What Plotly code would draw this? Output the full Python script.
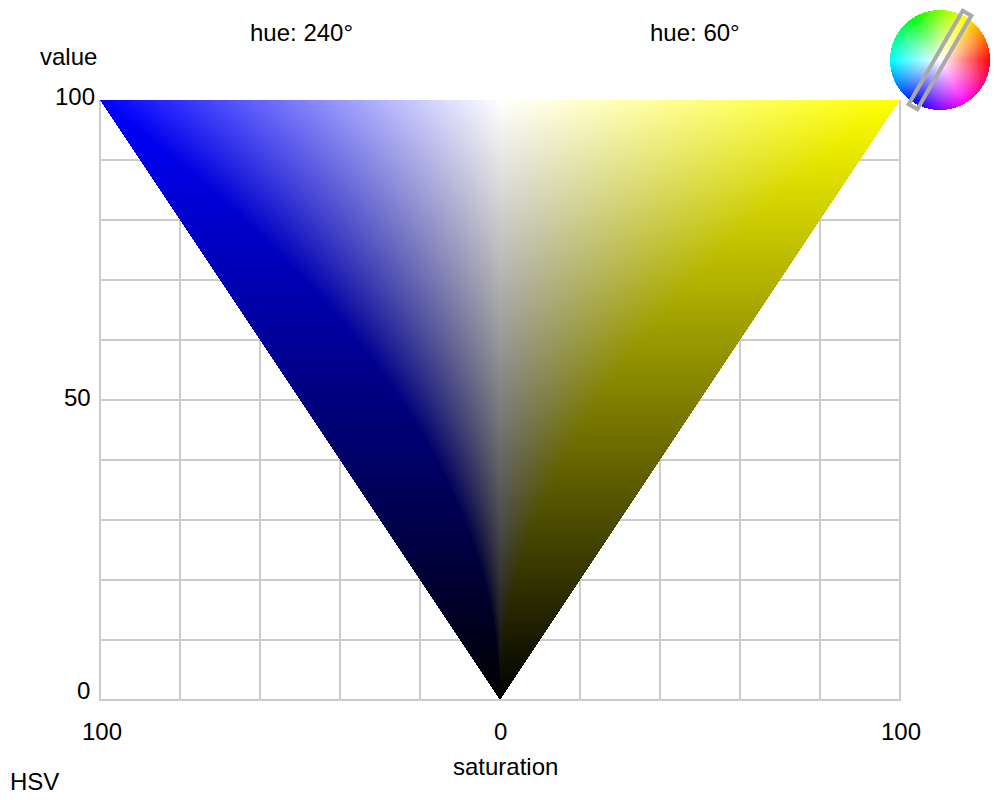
import colorsys
import numpy as np
import plotly.graph_objects as go

# Chart definition
hue_left = 240
hue_right = 60
grid_saturation = [-100, -80, -60, -40, -20, 0, 20, 40, 60, 80, 100]
grid_value = [0, 10, 20, 30, 40, 50, 60, 70, 80, 90]
x_tick_labels = [("100", 102), ("0", 500), ("100", 901)]
y_tick_labels = [("100", 97, 97), ("50", 93, 397), ("0", 92, 690)]
marker_half_length = 54
marker_half_width = 5
marker_hue = 60

W, H = 1000, 800
GRID = "#cccccc"
OUTLINE = "#aaaaaa"
FONT = "Liberation Sans, Arial, sans-serif"


def hue_rgb(h):
    return np.array(colorsys.hsv_to_rgb(h / 360.0, 1, 1))


def cross_section():
    """HSV slice through the two hues: one output pixel per RGBA cell."""
    nx, ny = 800, 600
    xs = -100 + (np.arange(nx) + 0.5) * 200 / nx
    vs = 100 - (np.arange(ny) + 0.5) * 100 / ny
    X, V = np.meshgrid(xs, vs)
    inside = np.abs(X) <= V
    v = V / 100
    s = np.clip(np.abs(X) / 100 / np.maximum(v * v, 1e-6), 0, 1)
    base = np.where((X < 0)[..., None], hue_rgb(hue_left), hue_rgb(hue_right))
    rgb = v[..., None] * (1 - s[..., None] + s[..., None] * base)
    out = np.zeros((ny, nx, 4), dtype=np.uint8)
    out[..., :3] = np.round(rgb * 255).astype(np.uint8)
    out[..., 3] = np.where(inside, 255, 0)
    return out


def wheel():
    n = 120
    c = (np.arange(n) + 0.5) - n / 2
    X, Y = np.meshgrid(c, -c)
    r = np.hypot(X, Y)
    h = (np.degrees(np.arctan2(Y, X)) % 360) / 60
    s = np.clip(r / 50, 0, 1)
    i = np.floor(h).astype(int) % 6
    f = h - np.floor(h)
    q, t = 1 - s * f, 1 - s * (1 - f)
    p = 1 - s
    v1 = np.ones_like(s)
    R = np.choose(i, [v1, q, p, p, t, v1])
    G = np.choose(i, [t, v1, v1, q, p, p])
    B = np.choose(i, [p, p, t, v1, v1, q])
    out = np.zeros((n, n, 4), dtype=np.uint8)
    out[..., 0] = np.round(R * 255)
    out[..., 1] = np.round(G * 255)
    out[..., 2] = np.round(B * 255)
    out[..., 3] = np.where(r <= 50, 255, 0)
    return out


fig = go.Figure()
fig.add_trace(go.Image(z=cross_section(), colormodel="rgba", x0=-100 + 0.125, dx=0.25,
                       y0=100 - 1 / 12, dy=-1 / 6, hoverinfo="skip", xaxis="x", yaxis="y"))
fig.add_trace(go.Image(z=wheel(), colormodel="rgba", x0=-59.5, dx=1, y0=59.5, dy=-1,
                       hoverinfo="skip", xaxis="x2", yaxis="y2"))

# Grid lies under the triangle and stops at the outer lines.
grid_line = dict(color=GRID, width=2)
for g in grid_saturation:
    fig.add_shape(type="line", xref="x", yref="y", x0=g, x1=g, y0=-1 / 6, y1=100,
                  line=grid_line, layer="below")
for g in grid_value:
    fig.add_shape(type="line", xref="x", yref="y", x0=-100.25, x1=100.25, y0=g, y1=g,
                  line=grid_line, layer="below")

# Marker rectangle over the wheel, along the selected hue axis
a = np.radians(marker_hue)
ux, uy = np.cos(a), np.sin(a)
px, py = -uy, ux
L, w = marker_half_length, marker_half_width
corners = [(L * ux + w * px, L * uy + w * py), (L * ux - w * px, L * uy - w * py),
           (-L * ux - w * px, -L * uy - w * py), (-L * ux + w * px, -L * uy + w * py)]
path = "M " + " L ".join(f"{x:.2f},{y:.2f}" for x, y in corners) + " Z"
fig.add_shape(type="path", path=path, xref="x2", yref="y2",
              line=dict(color=OUTLINE, width=4), layer="above")


def note(text, px_x, px_y, anchor="center"):
    fig.add_annotation(text=text, xref="paper", yref="paper", x=px_x / W, y=1 - px_y / H,
                       xanchor=anchor, yanchor="middle", showarrow=False,
                       font=dict(family=FONT, size=24, color="#000000"))


note(f"hue: {hue_left}°", 301, 32)
note(f"hue: {hue_right}°", 695, 32)
note("value", 68.5, 56)
note("saturation", 505, 766)
note("HSV", 8, 781, "left")
for label, px_x in x_tick_labels:
    note(label, px_x, 731)
for label, px_x, px_y in y_tick_labels:
    note(label, px_x, px_y, "right")

hidden = dict(showticklabels=False, ticks="", zeroline=False, showline=False, showgrid=False)
fig.update_layout(
    width=W, height=H, autosize=False,
    margin=dict(l=0, r=0, t=0, b=0),
    paper_bgcolor="white", plot_bgcolor="rgba(0,0,0,0)", showlegend=False,
    xaxis=dict(domain=[0.098, 0.902], range=[-100.5, 100.5], constrain="range", **hidden),
    yaxis=dict(domain=[0.1225, 0.8775], range=[-1 / 3, 100 + 1 / 3],
               scaleanchor=False, constrain="range", **hidden),
    xaxis2=dict(domain=[0.88, 1.0], range=[-60, 60], visible=False, anchor="y2"),
    yaxis2=dict(domain=[0.85, 1.0], range=[-60, 60], visible=False, anchor="x2",
                scaleanchor=False),
)

fig.write_html("out.html", config={"displayModeBar": False},
               post_script="document.body.style.margin='0';")
